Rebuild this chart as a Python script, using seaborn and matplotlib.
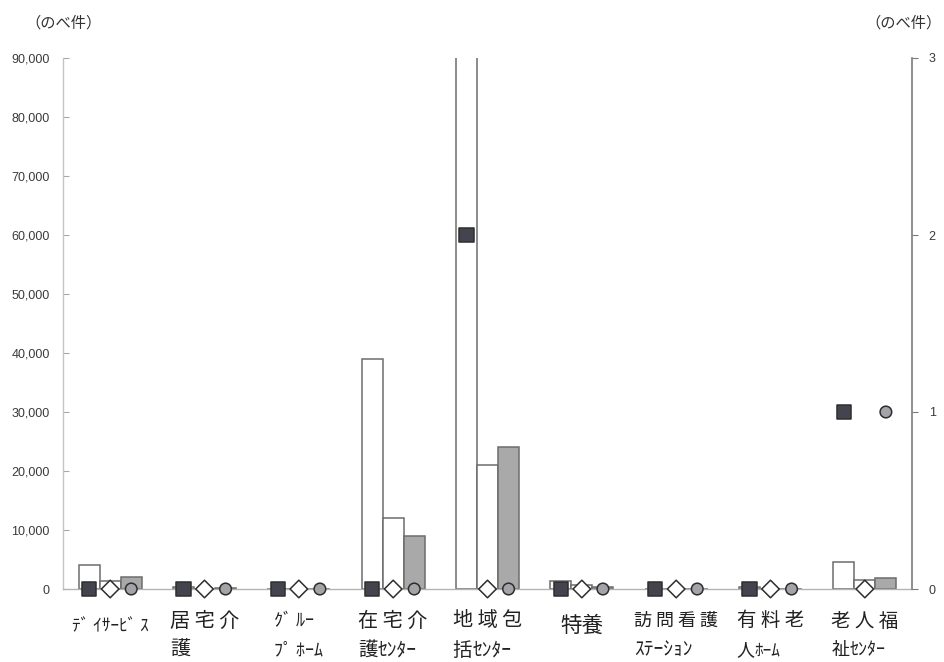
import matplotlib
matplotlib.use("Agg")
import matplotlib.pyplot as plt
import pandas as pd
import seaborn as sns

# --- data -----------------------------------------------------------------
categories = ["デイサービス", "居宅介護", "グループホーム", "在宅介護センター",
              "地域包括センター", "特養", "訪問看護ステーション", "有料老人ホーム",
              "老人福祉センター"]

# bar series (left axis, のべ件)
bar_series = ["系列1", "系列2", "系列3"]
bar_1 = [4100, 300, 0, 39000, 98000, 1300, 0, 300, 4600]
bar_2 = [1300, 0, 0, 12000, 21000, 600, 0, 0, 1500]
bar_3 = [2000, 250, 0, 9000, 24000, 300, 0, 0, 1900]

# point series (right axis, のべ件)
point_series = ["点1", "点2", "点3"]
point_1 = [0, 0, 0, 0, 2, 0, 0, 0, 1]
point_2 = [0, 0, 0, 0, 0, 0, 0, 0, 0]
point_3 = [0, 0, 0, 0, 0, 0, 0, 0, 1]

left_ticks = [0, 10000, 20000, 30000, 40000, 50000, 60000, 70000, 80000, 90000]
right_ticks = [0, 1, 2, 3]
unit_label = "（のべ件）"

# category labels: lines of (text, fontsize) segments
label_lines = [
    [[("ﾃﾞ ｲｻｰﾋﾞ ｽ", 12.5)]],
    [[("居 宅 介", 14.5)], [("護", 14.5)]],
    [[("ｸﾞ ﾙｰ", 13)], [("ﾌﾟ ﾎｰﾑ", 13)]],
    [[("在 宅 介", 14.5)], [("護", 14), ("ｾﾝﾀｰ", 14)]],
    [[("地 域 包", 14.5)], [("括", 14), ("ｾﾝﾀｰ", 14)]],
    [[("特養", 15.5)]],
    [[("訪 問 看 護", 13)], [("ｽﾃｰｼｮﾝ", 14)]],
    [[("有 料 老", 14)], [("人", 13), ("ﾎｰﾑ", 12.5)]],
    [[("老 人 福", 14)], [("祉", 13), ("ｾﾝﾀｰ", 13)]],
]

# --- style ----------------------------------------------------------------
sns.set_theme(style="white")
plt.rcParams["font.family"] = ["Noto Sans CJK JP", "DejaVu Sans"]

W, H = 944, 662
fig = plt.figure(figsize=(W / 100, H / 100), dpi=100)
fig.patch.set_facecolor("white")
ax = fig.add_axes([63 / W, 1 - 589 / H, (912 - 63) / W, (589 - 58) / H])

bars = pd.DataFrame({
    "cat": categories * 3,
    "series": [s for s in bar_series for _ in categories],
    "value": bar_1 + bar_2 + bar_3,
})
group_width = 0.67
sns.barplot(data=bars, x="cat", y="value", hue="series", order=categories,
            hue_order=bar_series,
            palette={"系列1": "#ffffff", "系列2": "#ffffff", "系列3": "#a9a9a9"},
            saturation=1, width=group_width, gap=0, errorbar=None,
            edgecolor="#6c6c6c", linewidth=1.1, legend=False, ax=ax)

ax.set_xlim(-0.5, len(categories) - 0.5)
ax.set_ylim(0, 90000)
ax.set_yticks(left_ticks)
ax.set_yticklabels([f"{v:,}" for v in left_ticks], family="Liberation Sans")
ax.set_xlabel("")
ax.set_ylabel("")
ax.set_xticks(range(len(categories)))
ax.set_xticklabels([])
ax.tick_params(axis="x", bottom=False, length=0)
ax.tick_params(axis="y", direction="in", length=4, width=0.8, color="#a8a8a8",
               labelsize=9, labelcolor="#3a3a3a", pad=9.5, left=True)
for side in ("top", "right"):
    ax.spines[side].set_visible(False)
ax.spines["left"].set_color("#c4c4c4")
ax.spines["left"].set_linewidth(1.0)
ax.spines["bottom"].set_color("#b4b4b4")
ax.spines["bottom"].set_linewidth(1.0)

# point series on the secondary axis, placed over the matching bar of each group
ax2 = ax.twinx()
step = group_width / 3
pts = pd.DataFrame({
    "x": [i + (k - 1) * step for k in range(3) for i in range(len(categories))],
    "series": [s for s in point_series for _ in categories],
    "value": point_1 + point_2 + point_3,
})
sns.scatterplot(data=pts, x="x", y="value", hue="series", style="series",
                size="series", hue_order=point_series, style_order=point_series,
                size_order=point_series,
                palette={"点1": "#44444f", "点2": "#ffffff", "点3": "#a3a3a8"},
                markers={"点1": "s", "点2": "D", "点3": "o"},
                sizes={"点1": 105, "点2": 80, "点3": 70},
                edgecolor="#2e2e2e", linewidth=1.1, legend=False, ax=ax2,
                zorder=5)
for coll in ax2.collections:
    coll.set_clip_on(False)

ax2.set_ylim(0, 3)
ax2.set_yticks(right_ticks)
ax2.set_yticklabels([str(v) for v in right_ticks], family="Liberation Sans")
ax2.set_xlim(-0.5, len(categories) - 0.5)
ax2.set_ylabel("")
ax2.set_xlabel("")
ax2.tick_params(axis="y", direction="out", length=4, width=0.8, color="#7a7a7a",
                labelsize=9, labelcolor="#3a3a3a", pad=8, right=True)
ax2.tick_params(axis="x", bottom=False, labelbottom=False)
for side in ("top", "left", "bottom"):
    ax2.spines[side].set_visible(False)
ax2.spines["right"].set_color("#7c7c7c")
ax2.spines["right"].set_linewidth(1.2)

# unit captions
fig.text(64 / W, 1 - 23 / H, unit_label, ha="center", va="center",
         fontsize=11, color="#333333")
fig.text(903 / W, 1 - 23 / H, unit_label, ha="center", va="center",
         fontsize=11, color="#333333")

# category labels: each block centred under its group, lines left-aligned
fig.canvas.draw()
renderer = fig.canvas.get_renderer()


def text_width(s, size):
    t = fig.text(0, 0, s, fontsize=size)
    w = t.get_window_extent(renderer).width
    t.remove()
    return w


line_y = [621, 650]
for i, lines in enumerate(label_lines):
    cx = ax.transData.transform((i, 0))[0]
    widths = [sum(text_width(s, sz) for s, sz in line) for line in lines]
    left = cx - max(widths) / 2
    for j, line in enumerate(lines):
        x = left
        y = line_y[j] if len(lines) > 1 else 626
        for s, sz in line:
            fig.text(x / W, 1 - y / H, s, ha="left", va="center",
                     fontsize=sz, color="#222222")
            x += text_width(s, sz)

fig.savefig("out.png", dpi=100, facecolor="white")
